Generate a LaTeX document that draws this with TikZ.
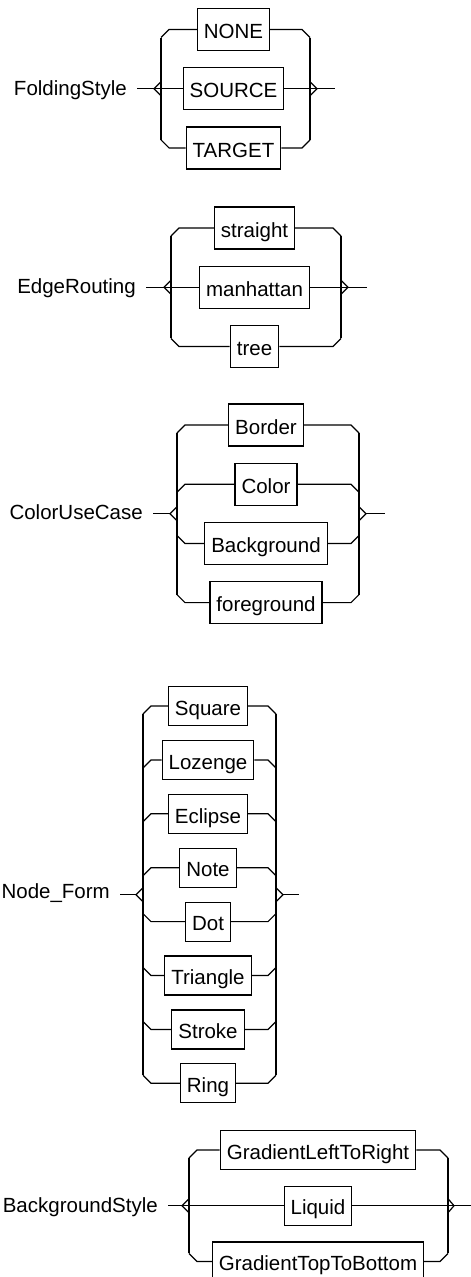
\documentclass[tikz,border=0pt]{standalone}
\usepackage{fontspec}
\setmainfont{Liberation Sans}
\usetikzlibrary{positioning,calc}

\begin{document}
\begin{tikzpicture}[
  x=1pt, y=-1pt,
  node distance=16pt,
  optbox/.style={rectangle, draw, line width=1.2pt, minimum height=42pt, inner xsep=6.5pt, inner ysep=0pt, text height=18.5pt, text depth=0pt, font=\fontsize{20.5}{25}\selectfont},
  slim/.style={minimum height=39pt},
  rulename/.style={anchor=base east, inner sep=0pt, font=\fontsize{20.5}{25}\selectfont},
  rail/.style={line width=1.2pt},
  kink/.style 2 args={to path={-- ($(\tikztostart -| \tikztotarget)+(#1,0)$) -- ($(\tikztostart -| \tikztotarget)+(0,#2)$)}}
]
\useasboundingbox (0,0) rectangle (471,1277);

% FoldingStyle
\node[optbox] (none) at (233.5,29.5) {NONE};
\node[optbox, below=of none] (source) {SOURCE};
\node[optbox, below=of source] (target) {TARGET};
\node[rulename] (fslab) at (127,95.5) {FoldingStyle};
\coordinate (fsl) at (161,0 |- source);
\coordinate (fsr) at (310,0 |- source);
\coordinate (fsin) at (154,0 |- source);
\coordinate (fsout) at (317,0 |- source);
\coordinate (fsend) at (335,0 |- source);

\draw[rail, shorten <=10pt] (fslab.east |- fsin) -- (fsin);
\draw[rail] ($(fsl)+(0,7pt)$) -- (fsin) -- ($(fsl)+(0,-7pt)$);
\draw[rail] ($(fsr)+(0,7pt)$) -- (fsout) -- ($(fsr)+(0,-7pt)$);
\draw[rail] ($(none.west -| fsl)+(0,-8pt)$) -- ($(target.west -| fsl)+(0,8pt)$);
\draw[rail] ($(none.east -| fsr)+(0,-8pt)$) -- ($(target.east -| fsr)+(0,8pt)$);
\draw[rail] (none.west) to[kink={8pt}{-8pt}] (fsl);
\draw[rail] (none.east) to[kink={-8pt}{-8pt}] (fsr);
\draw[rail] (fsin) -- (source.west);
\draw[rail] (source.east) -- (fsout);
\draw[rail] (target.west) to[kink={8pt}{8pt}] (fsl);
\draw[rail] (target.east) to[kink={-8pt}{8pt}] (fsr);
\draw[rail] (fsout) -- (fsend);

% EdgeRouting
\node[optbox] (straight) at (254.5,228) {straight};
\node[optbox, below=of straight] (manhattan) {manhattan};
\node[optbox, below=of manhattan] (tree) {tree};
\node[rulename] (erlab) at (136,293.5) {EdgeRouting};
\coordinate (erl) at (171,0 |- manhattan);
\coordinate (err) at (341,0 |- manhattan);
\coordinate (erin) at (164,0 |- manhattan);
\coordinate (erout) at (348,0 |- manhattan);
\coordinate (erend) at (367,0 |- manhattan);

\draw[rail, shorten <=10pt] (erlab.east |- erin) -- (erin);
\draw[rail] ($(erl)+(0,7pt)$) -- (erin) -- ($(erl)+(0,-7pt)$);
\draw[rail] ($(err)+(0,7pt)$) -- (erout) -- ($(err)+(0,-7pt)$);
\draw[rail] ($(straight.west -| erl)+(0,-8pt)$) -- ($(tree.west -| erl)+(0,8pt)$);
\draw[rail] ($(straight.east -| err)+(0,-8pt)$) -- ($(tree.east -| err)+(0,8pt)$);
\draw[rail] (straight.west) to[kink={8pt}{-8pt}] (erl);
\draw[rail] (straight.east) to[kink={-8pt}{-8pt}] (err);
\draw[rail] (erin) -- (manhattan.west);
\draw[rail] (manhattan.east) -- (erout);
\draw[rail] (tree.west) to[kink={8pt}{8pt}] (erl);
\draw[rail] (tree.east) to[kink={-8pt}{8pt}] (err);
\draw[rail] (erout) -- (erend);

% ColorUseCase
\node[optbox] (border) at (266,425) {Border};
\node[optbox, below=of border] (color) {Color};
\node[optbox, below=of color] (backgr) {Background};
\node[optbox, below=of backgr] (foregr) {foreground};
\node[rulename] (culab) at (143,519.5) {ColorUseCase};
\coordinate (cumid) at ($(color)!.5!(backgr)$);
\coordinate (cul) at (177,0 |- cumid);
\coordinate (cur) at (359,0 |- cumid);
\coordinate (cuin) at (170,0 |- cumid);
\coordinate (cuout) at (366,0 |- cumid);
\coordinate (cuend) at (385,0 |- cumid);

\draw[rail, shorten <=10pt] (culab.east |- cuin) -- (cuin);
\draw[rail] ($(cul)+(0,7pt)$) -- (cuin) -- ($(cul)+(0,-7pt)$);
\draw[rail] ($(cur)+(0,7pt)$) -- (cuout) -- ($(cur)+(0,-7pt)$);
\draw[rail] ($(border.west -| cul)+(0,-8pt)$) -- ($(foregr.west -| cul)+(0,8pt)$);
\draw[rail] ($(border.east -| cur)+(0,-8pt)$) -- ($(foregr.east -| cur)+(0,8pt)$);
\draw[rail] (border.west) to[kink={8pt}{-8pt}] (cul);
\draw[rail] (border.east) to[kink={-8pt}{-8pt}] (cur);
\draw[rail] (color.west) to[kink={8pt}{-8pt}] (cul);
\draw[rail] (color.east) to[kink={-8pt}{-8pt}] (cur);
\draw[rail] (backgr.west) to[kink={8pt}{8pt}] (cul);
\draw[rail] (backgr.east) to[kink={-8pt}{8pt}] (cur);
\draw[rail] (foregr.west) to[kink={8pt}{8pt}] (cul);
\draw[rail] (foregr.east) to[kink={-8pt}{8pt}] (cur);
\draw[rail] (cuout) -- (cuend);

% Node_Form
\begin{scope}[node distance=13.7pt]
\node[optbox, slim] (square) at (208,706) {Square};
\node[optbox, slim, below=of square] (lozenge) {Lozenge};
\node[optbox, slim, below=of lozenge] (eclipse) {Eclipse};
\node[optbox, slim, below=of eclipse] (note) {Note};
\node[optbox, slim, below=of note] (dot) {Dot};
\node[optbox, slim, below=of dot] (triangle) {Triangle};
\node[optbox, slim, below=of triangle] (stroke) {Stroke};
\node[optbox, slim, below=of stroke] (ring) {Ring};
\end{scope}
\node[rulename] (nflab) at (110,898) {Node\_Form};
\coordinate (nfmid) at ($(note)!.5!(dot)$);
\coordinate (nfl) at (143,0 |- nfmid);
\coordinate (nfr) at (276,0 |- nfmid);
\coordinate (nfin) at (136,0 |- nfmid);
\coordinate (nfout) at (283,0 |- nfmid);
\coordinate (nfend) at (299,0 |- nfmid);

\draw[rail, shorten <=10pt] (nflab.east |- nfin) -- (nfin);
\draw[rail] ($(nfl)+(0,7pt)$) -- (nfin) -- ($(nfl)+(0,-7pt)$);
\draw[rail] ($(nfr)+(0,7pt)$) -- (nfout) -- ($(nfr)+(0,-7pt)$);
\draw[rail] ($(square.west -| nfl)+(0,-8pt)$) -- ($(ring.west -| nfl)+(0,8pt)$);
\draw[rail] ($(square.east -| nfr)+(0,-8pt)$) -- ($(ring.east -| nfr)+(0,8pt)$);
\draw[rail] (square.west) to[kink={8pt}{-8pt}] (nfl);
\draw[rail] (square.east) to[kink={-8pt}{-8pt}] (nfr);
\draw[rail] (lozenge.west) to[kink={8pt}{-8pt}] (nfl);
\draw[rail] (lozenge.east) to[kink={-8pt}{-8pt}] (nfr);
\draw[rail] (eclipse.west) to[kink={8pt}{-8pt}] (nfl);
\draw[rail] (eclipse.east) to[kink={-8pt}{-8pt}] (nfr);
\draw[rail] (note.west) to[kink={8pt}{-8pt}] (nfl);
\draw[rail] (note.east) to[kink={-8pt}{-8pt}] (nfr);
\draw[rail] (dot.west) to[kink={8pt}{8pt}] (nfl);
\draw[rail] (dot.east) to[kink={-8pt}{8pt}] (nfr);
\draw[rail] (triangle.west) to[kink={8pt}{8pt}] (nfl);
\draw[rail] (triangle.east) to[kink={-8pt}{8pt}] (nfr);
\draw[rail] (stroke.west) to[kink={8pt}{8pt}] (nfl);
\draw[rail] (stroke.east) to[kink={-8pt}{8pt}] (nfr);
\draw[rail] (ring.west) to[kink={8pt}{8pt}] (nfl);
\draw[rail] (ring.east) to[kink={-8pt}{8pt}] (nfr);
\draw[rail] (nfout) -- (nfend);

% BackgroundStyle
\begin{scope}[node distance=15.5pt]
\node[optbox, slim] (gradlr) at (318,1150) {GradientLeftToRight};
\node[optbox, slim, below=of gradlr] (liquid) {Liquid};
\node[optbox, slim, below=of liquid] (gradtb) {GradientTopToBottom};
\end{scope}
\node[rulename] (bslab) at (158,1212.5) {BackgroundStyle};
\coordinate (bsl) at (189,0 |- liquid);
\coordinate (bsr) at (448,0 |- liquid);
\coordinate (bsin) at (182,0 |- liquid);
\coordinate (bsout) at (454,0 |- liquid);
\coordinate (bsend) at (471,0 |- liquid);

\draw[rail, shorten <=10pt] (bslab.east |- bsin) -- (bsin);
\draw[rail] ($(bsl)+(0,7pt)$) -- (bsin) -- ($(bsl)+(0,-7pt)$);
\draw[rail] ($(bsr)+(0,7pt)$) -- (bsout) -- ($(bsr)+(0,-7pt)$);
\draw[rail] ($(gradlr.west -| bsl)+(0,-8pt)$) -- ($(gradtb.west -| bsl)+(0,8pt)$);
\draw[rail] ($(gradlr.east -| bsr)+(0,-8pt)$) -- ($(gradtb.east -| bsr)+(0,8pt)$);
\draw[rail] (gradlr.west) to[kink={8pt}{-8pt}] (bsl);
\draw[rail] (gradlr.east) to[kink={-8pt}{-8pt}] (bsr);
\draw[rail] (bsin) -- (liquid.west);
\draw[rail] (liquid.east) -- (bsout);
\draw[rail] (gradtb.west) to[kink={8pt}{8pt}] (bsl);
\draw[rail] (gradtb.east) to[kink={-8pt}{8pt}] (bsr);
\draw[rail] (bsout) -- (bsend);
\end{tikzpicture}
\end{document}
